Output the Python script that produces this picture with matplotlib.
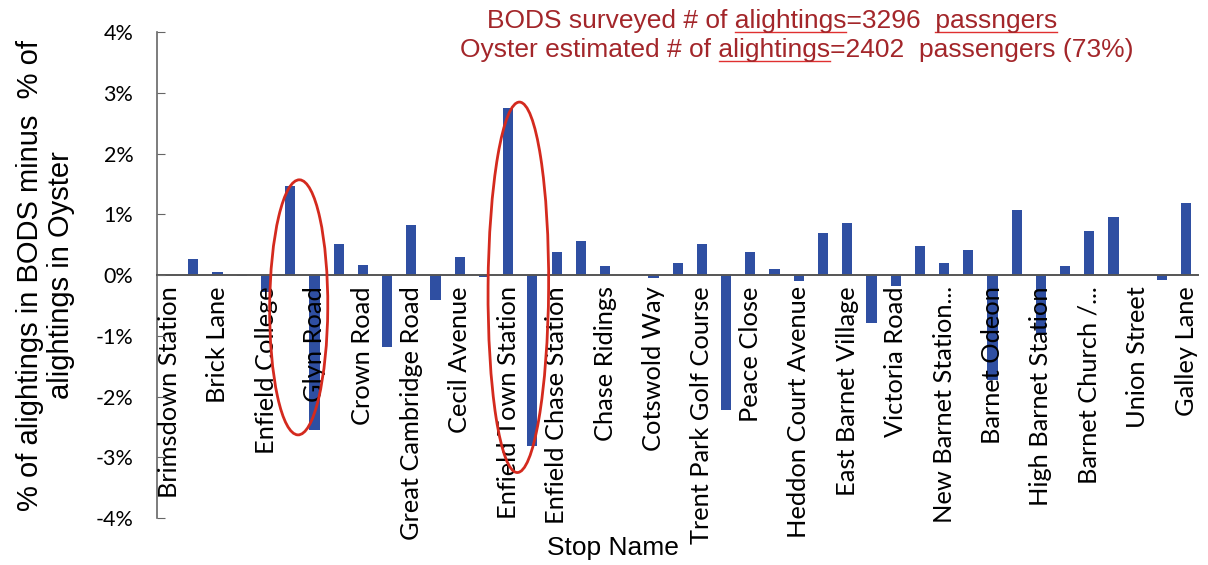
import numpy as np
import matplotlib
matplotlib.use("Agg")
import matplotlib.pyplot as plt
from matplotlib.patches import Ellipse
from matplotlib.lines import Line2D
from matplotlib.ticker import FuncFormatter

# labelled stops (every second category carries a label in the original chart)
stop_labels = ["Brimsdown Station", "Brick Lane", "Enfield College", "Glyn Road",
               "Crown Road", "Great Cambridge Road", "Cecil Avenue",
               "Enfield Town Station", "Enfield Chase Station", "Chase Ridings",
               "Cotswold Way", "Trent Park Golf Course", "Peace Close",
               "Heddon Court Avenue", "East Barnet Village", "Victoria Road",
               "New Barnet Station...", "Barnet Odeon", "High Barnet Station",
               "Barnet Church /...", "Union Street", "Galley Lane"]

# % of alightings in BODS minus % of alightings in Oyster, one value per stop
diff_pct = [0.00, 0.27, 0.05, -0.02, -0.28, 1.46, -2.55, 0.51, 0.16, -1.19,
            0.82, -0.41, 0.30, -0.03, 2.75, -2.81, 0.38, 0.56, 0.15, 0.00,
            -0.05, 0.20, 0.51, -2.22, 0.38, 0.10, -0.09, 0.70, 0.86, -0.79,
            -0.18, 0.48, 0.20, 0.42, -1.72, 1.08, -0.98, 0.15, 0.72, 0.95,
            0.00, -0.08, 1.18]

note_lines = ["BODS surveyed # of alightings=3296  passngers",
              "Oyster estimated # of alightings=2402  passengers (73%)"]
# words carrying the spell-check underline in each note line
flagged = [["alightings", "passngers"], ["alightings"]]

x = np.arange(len(diff_pct))

fig = plt.figure(figsize=(12.08, 5.65), dpi=100)
ax = fig.add_axes([0.130, 0.083, 0.862, 0.860])
ax.set_axisbelow(False)

ax.bar(x, diff_pct, width=0.42, color="#2f4fa2", zorder=2)

ax.set_xlim(-0.5, len(diff_pct) - 0.5)
ax.set_ylim(-4, 4)
ax.set_yticks(np.arange(-4, 5, 1))
ax.yaxis.set_major_formatter(FuncFormatter(lambda v, p: f"{int(round(v))}%"))

for s in ["top", "right"]:
    ax.spines[s].set_visible(False)
ax.spines["bottom"].set_position(("data", 0))
ax.spines["bottom"].set_color("#555555")
ax.spines["bottom"].set_linewidth(1.4)
ax.spines["left"].set_color("#666666")
ax.spines["left"].set_linewidth(1.2)

ax.tick_params(axis="y", direction="in", length=6, color="#666666",
               labelsize=15.5, pad=17)
for lab in ax.get_yticklabels():
    lab.set_family("Lato")

ax.set_xticks(x[::2])
ax.set_xticklabels(stop_labels, rotation=90, fontsize=18.3, family="Lato",
                   va="top", ha="center")
ax.tick_params(axis="x", length=0, pad=8)

ax.set_ylabel("% of alightings in BODS minus  % of\nalightings in Oyster",
              fontsize=21, family="Liberation Sans", labelpad=15,
              linespacing=1.12)
fig.text(0.507, 0.030, "Stop Name", fontsize=19, family="Liberation Sans",
         ha="center", va="center")

# red ellipses highlighting the two adjacent pairs
ax.add_patch(Ellipse((5.35, -0.53), 2.4, 4.2, angle=-1, fill=False,
                     edgecolor="#d42a1e", linewidth=2, zorder=3))
ax.add_patch(Ellipse((14.42, -0.2), 2.5, 6.1, angle=-1, fill=False,
                     edgecolor="#d42a1e", linewidth=2, zorder=3))

note_pos = [(0.403, 0.963), (0.381, 0.911)]
note_kw = dict(fontsize=19, family="Liberation Sans", color="#a3262a",
               ha="left", va="center")

fig.canvas.draw()
renderer = fig.canvas.get_renderer()


def text_width(s):
    t = fig.text(0, 0, s, **note_kw)
    w = t.get_window_extent(renderer).width
    t.remove()
    return w


space_w = text_width("a a") - text_width("aa")
W, H = fig.bbox.width, fig.bbox.height

for line, (px, py), words in zip(note_lines, note_pos, flagged):
    fig.text(px, py, line, **note_kw)
    for w in words:
        i = line.index(w)
        prefix = line[:i].rstrip()
        n_sp = len(line[:i]) - len(prefix)
        x0 = px * W + text_width(prefix) + n_sp * space_w
        x1 = x0 + text_width(w)
        y_u = py * H - 11
        fig.add_artist(Line2D([x0 / W, x1 / W], [y_u / H, y_u / H],
                              color="#e03030", linewidth=1.0,
                              transform=fig.transFigure))

fig.savefig("out.png", dpi=100)
